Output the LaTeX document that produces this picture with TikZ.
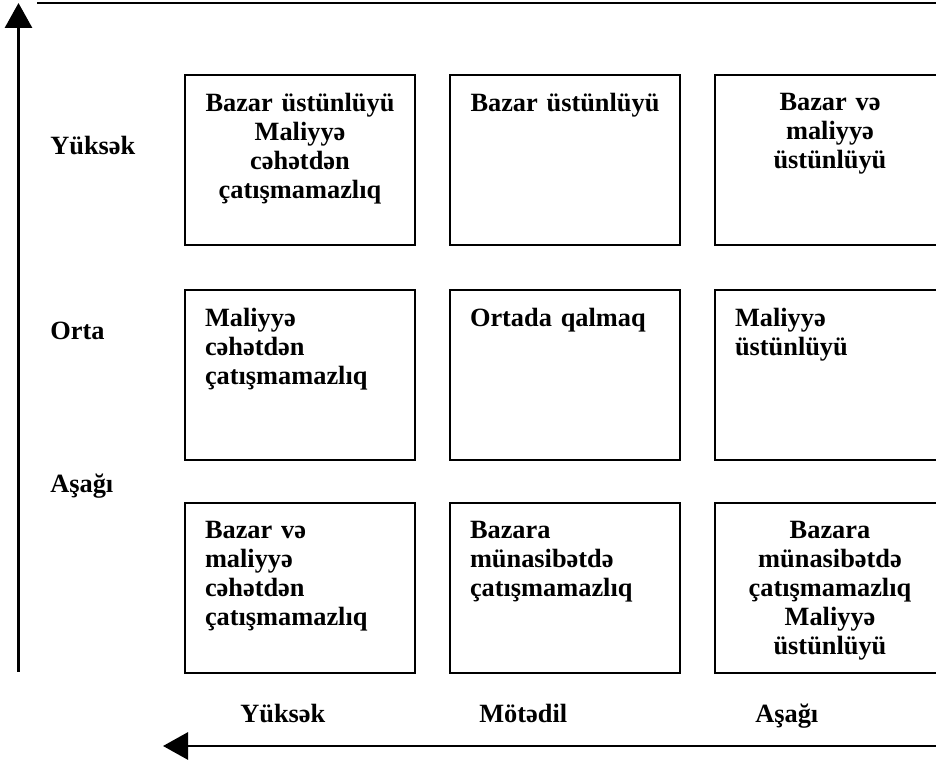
\documentclass[tikz,border=0pt]{standalone}
\usepackage{fontspec}
\setmainfont{Liberation Serif}
\usetikzlibrary{arrows.meta, positioning}

\tikzset{
  cell/.style={draw, line width=1.1pt, minimum width=4.6cm, minimum height=3.4cm, inner sep=0pt},
  celltext/.style={font=\fontsize{15}{16.5}\selectfont\bfseries, text width=3.8cm, inner sep=0pt, anchor=north},
  axislbl/.style={font=\fontsize{15}{16.5}\selectfont\bfseries, inner sep=0pt, anchor=base west},
  axisline/.style={line width=1.7pt, -{Triangle[length=0.5cm, width=0.54cm]}}
}

\begin{document}
\begin{tikzpicture}
  \useasboundingbox (0,0) rectangle (18.72,15.26);
  \begin{scope}
    \clip (0,0) rectangle (18.72,15.26);
    % axes
    \coordinate (yfoot) at (0.37,1.82);
    \coordinate (ytip) at (0.37,15.20);
    \coordinate (xfoot) at (18.8,0.34);
    \coordinate (xtip) at (3.26,0.34);
    \coordinate (topl) at (0.74,15.20);
    \coordinate (topr) at (18.8,15.20);
    \draw[axisline] (yfoot) -- (ytip);
    \draw[axisline] (xfoot) -- (xtip);
    \draw[line width=1.1pt] (topl) -- (topr);
    % 3x3 grid, right column runs off the page
    \foreach \nm/\x/\y/\al/\lbl in {
      c11/6.0/12.06/center/{Bazar üstünlüyü\\ Maliyyə\\ cəhətdən\\ çatışmamazlıq},
      c21/11.3/12.06/center/{Bazar üstünlüyü},
      c31/16.6/12.06/center/{Bazar və\\ maliyyə\\ üstünlüyü},
      c12/6.0/7.76/left/{Maliyyə\\ cəhətdən\\ çatışmamazlıq},
      c22/11.3/7.76/left/{Ortada qalmaq},
      c32/16.6/7.76/left/{Maliyyə\\ üstünlüyü},
      c13/6.0/3.5/left/{Bazar və\\ maliyyə\\ cəhətdən\\ çatışmamazlıq},
      c23/11.3/3.5/left/{Bazara\\ münasibətdə\\ çatışmamazlıq},
      c33/16.6/3.5/center/{Bazara\\ münasibətdə\\ çatışmamazlıq\\ Maliyyə\\ üstünlüyü}}{
      \node[cell] (\nm) at (\x,\y) {};
      \node[celltext, align=\al, below=0.38 of \nm.north] (\nm-lbl) {\lbl};
    }
  \end{scope}
  % axis labels
  \node[axislbl] (vhigh) at (1.0,12.16) {Yüksək};
  \node[axislbl] (vmid) at (1.0,8.46) {Orta};
  \node[axislbl] (vlow) at (1.0,5.40) {Aşağı};
  \node[axislbl] (hhigh) at (4.8,0.80) {Yüksək};
  \node[axislbl] (hmid) at (9.58,0.80) {Mötədil};
  \node[axislbl] (hlow) at (15.1,0.80) {Aşağı};
\end{tikzpicture}
\end{document}
